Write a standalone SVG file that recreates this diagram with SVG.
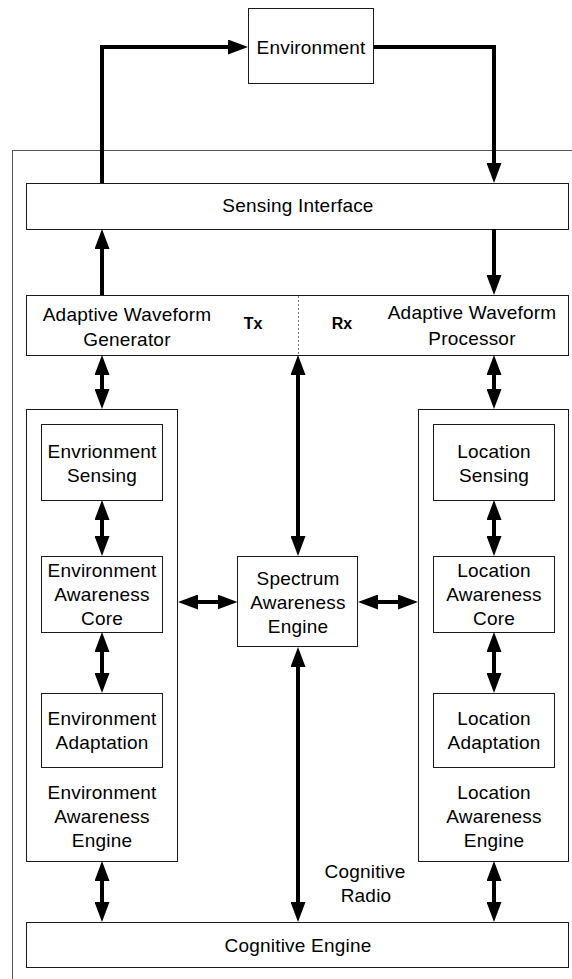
<svg xmlns="http://www.w3.org/2000/svg" width="572" height="979" viewBox="0 0 572 979">
<style>
.bx{fill:#fff;stroke:#1a1a1a;stroke-width:1}
.outer{fill:none;stroke:#555;stroke-width:1}
text{font-family:"Liberation Sans",Arial,sans-serif;font-size:19px;fill:#000;text-anchor:middle;letter-spacing:0.2px}
.b{font-weight:bold;font-size:16px;letter-spacing:0}
.c{fill:none;stroke:#000;stroke-width:4}
</style>
<defs>
<marker id="ah" viewBox="0 0 20 15" refX="2" refY="7.5" markerWidth="20" markerHeight="15" markerUnits="userSpaceOnUse" orient="auto-start-reverse"><path d="M0,0 L20,7.5 L0,15 Z" fill="#000"/></marker>
</defs>
<rect width="572" height="979" fill="#fff"/>
<g id="cognitive-radio">
<rect class="outer" x="12.5" y="150.5" width="600" height="900"/>
<text x="365" y="878">Cognitive</text>
<text x="366" y="902">Radio</text>
</g>
<g id="environment"><rect class="bx" x="248.5" y="8.5" width="125" height="75"/><text x="311" y="54">Environment</text></g>
<g id="sensing-interface"><rect class="bx" x="26.5" y="183.5" width="542" height="46"/><text x="298" y="212">Sensing Interface</text></g>
<g id="adaptive-waveform">
<rect class="bx" x="26.5" y="295.5" width="542" height="60"/>
<line x1="298.5" y1="296" x2="298.5" y2="355" stroke="#777" stroke-width="1" stroke-dasharray="2,2"/>
<text x="127" y="321">Adaptive Waveform</text><text x="127" y="346">Generator</text>
<text class="b" x="253" y="329">Tx</text><text class="b" x="342" y="329">Rx</text>
<text x="472" y="319">Adaptive Waveform</text><text x="472" y="345">Processor</text>
</g>
<g id="environment-awareness-engine">
<rect class="bx" x="26.5" y="409.5" width="151" height="452"/>
<text x="102" y="799">Environment</text><text x="102" y="823">Awareness</text><text x="102" y="847">Engine</text>
</g>
<g id="environment-sensing"><rect class="bx" x="41.5" y="424.5" width="121" height="76"/><text x="102" y="458">Envrionment</text><text x="102" y="482">Sensing</text></g>
<g id="environment-awareness-core"><rect class="bx" x="41.5" y="556.5" width="121" height="76"/><text x="102" y="577">Environment</text><text x="102" y="601">Awareness</text><text x="102" y="625">Core</text></g>
<g id="environment-adaptation"><rect class="bx" x="41.5" y="693.5" width="121" height="74"/><text x="102" y="725">Environment</text><text x="102" y="749">Adaptation</text></g>
<g id="spectrum-awareness-engine"><rect class="bx" x="237.5" y="556.5" width="120" height="90"/><text x="298" y="585">Spectrum</text><text x="298" y="609">Awareness</text><text x="298" y="633">Engine</text></g>
<g id="location-awareness-engine">
<rect class="bx" x="418.5" y="409.5" width="150" height="452"/>
<text x="494" y="799">Location</text><text x="494" y="823">Awareness</text><text x="494" y="847">Engine</text>
</g>
<g id="location-sensing"><rect class="bx" x="433.5" y="424.5" width="121" height="76"/><text x="494" y="458">Location</text><text x="494" y="482">Sensing</text></g>
<g id="location-awareness-core"><rect class="bx" x="433.5" y="556.5" width="121" height="76"/><text x="494" y="577">Location</text><text x="494" y="601">Awareness</text><text x="494" y="625">Core</text></g>
<g id="location-adaptation"><rect class="bx" x="433.5" y="693.5" width="121" height="74"/><text x="494" y="725">Location</text><text x="494" y="749">Adaptation</text></g>
<g id="cognitive-engine"><rect class="bx" x="26.5" y="922.5" width="542" height="45"/><text x="298" y="952">Cognitive Engine</text></g>
<g id="connectors">
<path class="c" d="M102,183 V47 H230" marker-end="url(#ah)"/>
<path class="c" d="M374,47 H494 V165" marker-end="url(#ah)"/>
<path class="c" d="M102,295 V247" marker-end="url(#ah)"/>
<path class="c" d="M494,229 V277" marker-end="url(#ah)"/>
<path class="c" d="M102,373 V391" marker-start="url(#ah)" marker-end="url(#ah)"/>
<path class="c" d="M494,373 V391" marker-start="url(#ah)" marker-end="url(#ah)"/>
<path class="c" d="M298,373 V538" marker-start="url(#ah)" marker-end="url(#ah)"/>
<path class="c" d="M102,518 V538" marker-start="url(#ah)" marker-end="url(#ah)"/>
<path class="c" d="M102,650 V675" marker-start="url(#ah)" marker-end="url(#ah)"/>
<path class="c" d="M494,518 V538" marker-start="url(#ah)" marker-end="url(#ah)"/>
<path class="c" d="M494,650 V675" marker-start="url(#ah)" marker-end="url(#ah)"/>
<path class="c" d="M196,602 H219.5" marker-start="url(#ah)" marker-end="url(#ah)"/>
<path class="c" d="M376,602 H400" marker-start="url(#ah)" marker-end="url(#ah)"/>
<path class="c" d="M298,665 V904" marker-start="url(#ah)" marker-end="url(#ah)"/>
<path class="c" d="M102,879 V904" marker-start="url(#ah)" marker-end="url(#ah)"/>
<path class="c" d="M494,879 V904" marker-start="url(#ah)" marker-end="url(#ah)"/>
</g>
</svg>
